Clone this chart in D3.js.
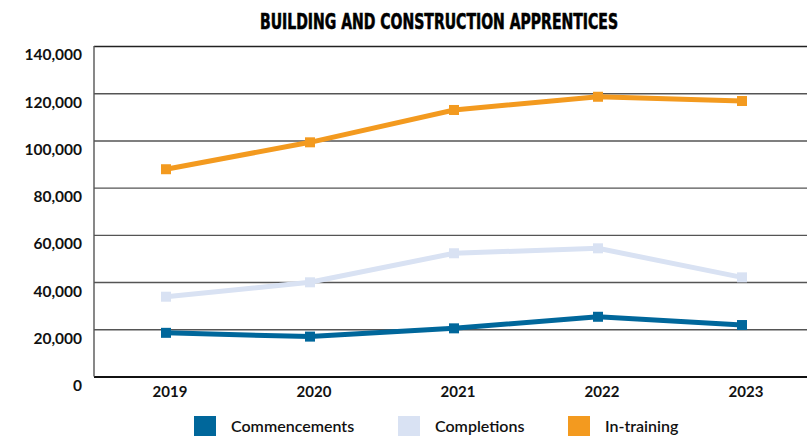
<!DOCTYPE html>
<html>
<head>
<meta charset="utf-8">
<script src="https://cdn.jsdelivr.net/npm/d3@7"></script>
<style>
  html, body { margin: 0; padding: 0; background: #fff; }
  svg { display: block; }
</style>
</head>
<body>
<svg id="chart" width="807" height="436"></svg>
<script>
const years = ["2019", "2020", "2021", "2022", "2023"];
const commencements = [18500, 16900, 20400, 25300, 21800];
const completions = [33800, 39900, 52200, 54300, 42000];
const inTraining = [87800, 99200, 112900, 118500, 116700];
const yTicks = [0, 20000, 40000, 60000, 80000, 100000, 120000, 140000];
const seriesNames = ["Commencements", "Completions", "In-training"];
const seriesColors = ["#00679b", "#d9e2f3", "#f39a1f"];

(function () {
const series = [
  { name: seriesNames[0], values: commencements, color: seriesColors[0] },
  { name: seriesNames[1], values: completions, color: seriesColors[1] },
  { name: seriesNames[2], values: inTraining, color: seriesColors[2] }
];

const svg = d3.select("#chart");
const mLeft = 94, mRight = 814, mTop = 46, mBottom = 376.5;

const x = d3.scaleBand().domain(years).range([mLeft, mRight]).padding(0);
const cx = d => x(d) + x.bandwidth() / 2;
const y = d3.scaleLinear().domain([0, 140000]).range([mBottom, mTop]);

// Title
svg.append("text")
  .attr("x", 439).attr("y", 29)
  .attr("text-anchor", "middle")
  .attr("font-family", "'Liberation Sans Narrow', 'DejaVu Sans Condensed', sans-serif")
  .attr("font-weight", "bold")
  .attr("font-size", 22)
  .attr("textLength", 358)
  .attr("lengthAdjust", "spacingAndGlyphs")
  .attr("fill", "#000")
  .attr("stroke", "#000")
  .attr("stroke-width", 0.6)
  .text("BUILDING AND CONSTRUCTION APPRENTICES");

// Gridlines
const yAxis = d3.axisLeft(y).tickValues(yTicks).tickSize(-(mRight - mLeft)).tickFormat(d3.format(",")).tickPadding(12);
const gy = svg.append("g").attr("transform", `translate(${mLeft},0)`).call(yAxis);
gy.select(".domain").remove();
gy.selectAll(".tick line")
  .attr("stroke", d => (d === 0 ? "#111" : (d === 140000 ? "#222" : "#555")))
  .attr("stroke-width", d => (d === 0 ? 2 : 1.4));
gy.selectAll(".tick text")
  .attr("dy", "0.9em")
  .attr("font-family", "Lato, 'Open Sans', sans-serif")
  .attr("font-weight", "bold")
  .attr("font-size", 15.5)
  .attr("fill", "#111");

// Left axis line
svg.append("line")
  .attr("x1", mLeft).attr("x2", mLeft)
  .attr("y1", y(140000)).attr("y2", y(0))
  .attr("stroke", "#555").attr("stroke-width", 1.4);

// X axis labels
const xAxis = d3.axisBottom(x).tickSize(0).tickPadding(10);
const gx = svg.append("g").attr("transform", `translate(4,${mBottom})`).call(xAxis);
gx.select(".domain").remove();
gx.selectAll(".tick text")
  .attr("font-family", "Lato, 'Open Sans', sans-serif")
  .attr("font-weight", "bold")
  .attr("font-size", 15)
  .attr("fill", "#111");

// Lines
const line = d3.line().x((d, i) => cx(years[i])).y(d => y(d));
series.forEach(s => {
  svg.append("path")
    .datum(s.values)
    .attr("d", line)
    .attr("fill", "none")
    .attr("stroke", s.color)
    .attr("stroke-width", 5);
  svg.selectAll(null)
    .data(s.values)
    .enter().append("rect")
    .attr("x", (d, i) => cx(years[i]) - 5)
    .attr("y", d => y(d) - 5)
    .attr("width", 10).attr("height", 10)
    .attr("fill", s.color);
});

// Legend
const legendX = [194, 398, 568];
series.forEach((s, i) => {
  svg.append("rect")
    .attr("x", legendX[i]).attr("y", 416)
    .attr("width", 22).attr("height", 22)
    .attr("fill", s.color);
  svg.append("text")
    .attr("x", legendX[i] + 37).attr("y", 432)
    .attr("font-family", "Lato, 'Open Sans', sans-serif")
    .attr("font-weight", 600)
    .attr("font-size", 16)
    .attr("fill", "#111")
    .text(s.name);
});
})();
</script>
</body>
</html>
